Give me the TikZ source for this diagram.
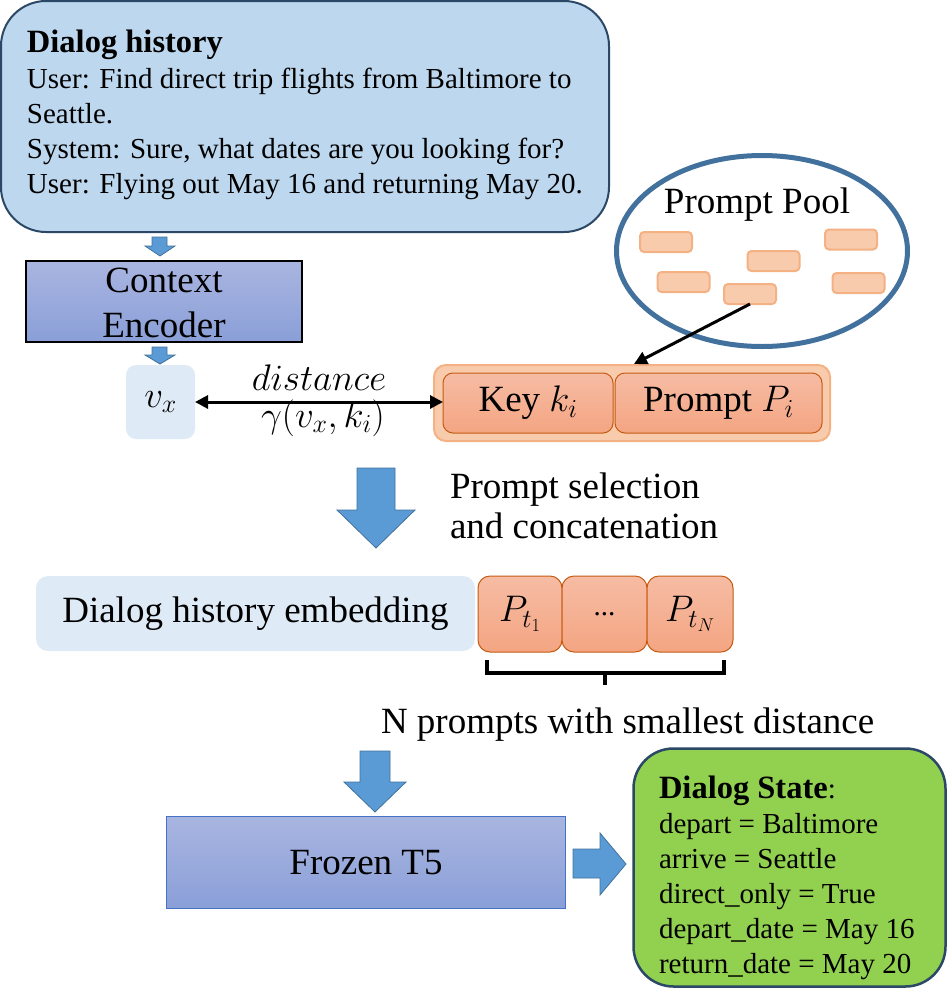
\RequirePackage{fix-cm}
\documentclass[tikz,border=0pt]{standalone}
\usepackage{fontspec}
\setmainfont{Liberation Serif}
\usetikzlibrary{arrows.meta,shapes.geometric}
\definecolor{dhfill}{HTML}{BDD7EE}
\definecolor{dhline}{HTML}{2B4866}
\definecolor{lightbl}{HTML}{DEEBF7}
\definecolor{encTop}{HTML}{A9B5E0}
\definecolor{encBot}{HTML}{8A9FD8}
\definecolor{arrowfill}{HTML}{5B9BD5}
\definecolor{arrowline}{HTML}{41719C}
\definecolor{peach}{HTML}{F8CBAD}
\definecolor{peachline}{HTML}{F4B183}
\definecolor{keyTop}{HTML}{F6BCA4}
\definecolor{keyBot}{HTML}{F4A582}
\definecolor{keyline}{HTML}{C55A11}
\definecolor{dsgreen}{HTML}{92D050}
\definecolor{tfiveline}{HTML}{4472C4}
\newcommand{\bodyf}{\fontsize{29}{35}\selectfont}
\newcommand{\bigf}{\fontsize{37}{44}\selectfont}
\newcommand{\titlef}{\fontsize{32.5}{39}\selectfont\bfseries}
\begin{document}
\begin{tikzpicture}[x=1pt,y=-1pt,
  txt/.style={inner sep=0pt, outer sep=0pt},
  shapebox/.style={inner sep=0pt, outer sep=0pt},
  blockarrow/.style={fill=arrowfill, draw=arrowline, line width=0.8pt, line join=miter},
  keybox/.style={shapebox, top color=keyTop, bottom color=keyBot, draw=keyline, line width=1pt, rounded corners=10pt, font=\bigf},
  poolrect/.style={shapebox, fill=peach, draw=peachline, line width=2pt, rounded corners=4pt, minimum width=52pt, minimum height=20pt},
  encbox/.style={shapebox, top color=encTop, bottom color=encBot},
  thickarrow/.style={line width=3pt, -{Triangle[length=13pt,width=13pt]}},
  bracket/.style={line width=4pt, line join=miter}
]
\useasboundingbox (0,0) rectangle (948,999);

% Dialog history
\node[shapebox, draw=dhline, fill=dhfill, line width=2pt, rounded corners=45pt,
      minimum width=608pt, minimum height=231pt] (dh) at (305,116.5) {};
\node[txt, anchor=base west, font=\titlef] (dht) at (27,52) {Dialog history};
\node[txt, anchor=base west, font=\bodyf] (dh1) at (27,88) {User: Find direct trip flights from Baltimore to};
\node[txt, anchor=base west, font=\bodyf] (dh2) at (27,123) {Seattle.};
\node[txt, anchor=base west, font=\bodyf] (dh3) at (27,158) {System: Sure, what dates are you looking for?};
\node[txt, anchor=base west, font=\bodyf] (dh4) at (27,193) {User: Flying out May 16 and returning May 20.};

% small arrow 1
\path[blockarrow] (152,237) -- (167,237) -- (167,246) -- (175,246) -- (160,256) -- (145,246) -- (152,246) -- cycle;

% Context encoder
\node[encbox, draw=black, line width=2pt, minimum width=276pt, minimum height=81pt] (ce) at (164,301.5) {};
\node[txt, anchor=base, font=\bigf] (ce1) at (164,292) {Context};
\node[txt, anchor=base, font=\bigf] (ce2) at (164,337) {Encoder};

% small arrow 2
\path[blockarrow] (152,347) -- (167,347) -- (167,355) -- (175,355) -- (160,364) -- (145,355) -- (152,355) -- cycle;

% v_x
\node[shapebox, fill=lightbl, rounded corners=10pt, minimum width=69pt, minimum height=74pt, font=\bigf] (vx) at (160.5,402) {$v_x$};

% distance labels
\node[txt, anchor=base, font=\bigf] (dist) at (319,390) {$distance$};
\node[txt, anchor=base, font=\bigf] (gam) at (323,427) {$\gamma(v_x,k_i)$};

% Prompt pool
\node[ellipse, draw=arrowline, line width=5pt, fill=white, minimum width=291pt, minimum height=191pt, inner sep=0pt] (pool) at (762,251) {};
\node[txt, anchor=base, font=\bigf] (pooltxt) at (757,213) {Prompt Pool};
\node[poolrect] (p1) at (666,242) {};
\node[poolrect] (p2) at (683.5,282) {};
\node[poolrect] (p3) at (773.5,261) {};
\node[poolrect] (p4) at (750,294) {};
\node[poolrect] (p5) at (851,239.5) {};
\node[poolrect] (p6) at (858.5,283) {};

% key/prompt
\node[shapebox, fill=peach, draw=peachline, line width=2pt, rounded corners=12pt, minimum width=396pt, minimum height=76pt] (kp) at (632,403) {};
\node[keybox, minimum width=170pt, minimum height=60pt] (key) at (528,403) {Key $k_i$};
\node[keybox, minimum width=207pt, minimum height=60pt] (prm) at (718.5,403) {Prompt $P_i$};
\coordinate (kpin) at (634,364);

\draw[line width=3pt, {Triangle[length=13pt,width=13pt]}-{Triangle[length=13pt,width=13pt]}] (vx.east) -- (vx.east -| key.west);
\draw[thickarrow] (p4.south) -- (kpin);

% big arrow 1
\path[blockarrow] (357,468) -- (395,468) -- (395,510) -- (415,510) -- (376,548) -- (337,510) -- (357,510) -- cycle;
\node[txt, anchor=base west, font=\bigf] (sel1) at (450,498) {Prompt selection};
\node[txt, anchor=base west, font=\bigf] (sel2) at (450,538) {and concatenation};

% embedding row
\node[shapebox, fill=lightbl, rounded corners=12pt, minimum width=439pt, minimum height=75pt, font=\bigf] (emb) at (255.5,613.5) {Dialog history embedding};
\node[keybox, rounded corners=12pt, minimum width=84pt, minimum height=76pt] (pt1) at (520,614) {$P_{t_1}$};
\node[keybox, rounded corners=12pt, minimum width=85pt, minimum height=76pt] (ptd) at (604.5,614) {\fontsize{29}{35}\selectfont ...};
\node[keybox, rounded corners=12pt, minimum width=86pt, minimum height=76pt] (ptn) at (690,614) {$P_{t_N}$};

% bracket
\draw[bracket] (487,660) -- (487,673) -- (724,673) -- (724,660);
\draw[bracket] (605,673) -- (605,685);
\node[txt, anchor=base west, font=\bigf] (nprom) at (381,733) {N prompts with smallest distance};

% big arrow 2
\path[blockarrow] (360,751) -- (390,751) -- (390,782) -- (406,782) -- (375,812) -- (344,782) -- (360,782) -- cycle;

% Frozen T5
\node[encbox, draw=tfiveline, line width=1.2pt, minimum width=399pt, minimum height=92pt, font=\bigf] (t5) at (366,862.5) {Frozen T5};

% right arrow
\path[blockarrow] (573,849) -- (600,849) -- (600,833) -- (626,864) -- (600,895) -- (600,878) -- (573,878) -- cycle;

% Dialog state
\node[shapebox, fill=dsgreen, draw=dhline, line width=2.5pt, rounded corners=40pt, minimum width=312pt, minimum height=238pt] (ds) at (789.5,867.5) {};
\node[txt, anchor=base west, font=\bodyf] (ds0) at (659,798) {{\titlef Dialog State}:};
\node[txt, anchor=base west, font=\bodyf] (ds1) at (659,833) {depart = Baltimore};
\node[txt, anchor=base west, font=\bodyf] (ds2) at (659,868) {arrive = Seattle};
\node[txt, anchor=base west, font=\bodyf] (ds3) at (659,903) {direct\_only = True};
\node[txt, anchor=base west, font=\bodyf] (ds4) at (659,938) {depart\_date = May 16};
\node[txt, anchor=base west, font=\bodyf] (ds5) at (659,973) {return\_date = May 20};
\end{tikzpicture}
\end{document}
